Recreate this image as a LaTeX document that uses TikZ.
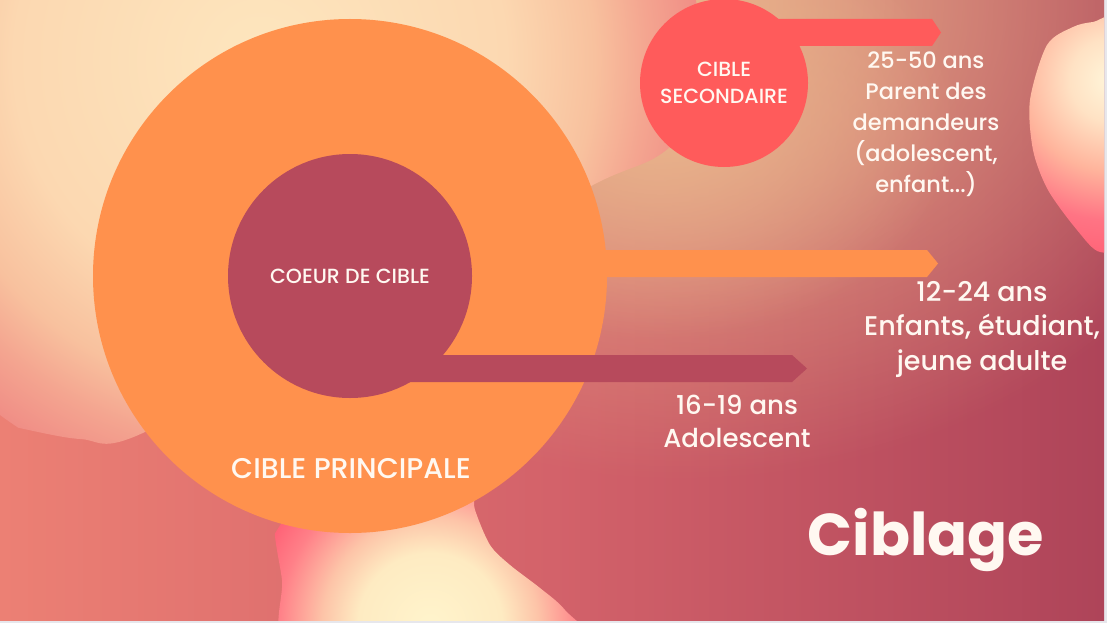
\documentclass[tikz,border=0pt]{standalone}
\usepackage{fontspec}
\setmainfont{Poppins}[UprightFont=* Medium, BoldFont=* Bold]
\usetikzlibrary{calc,fadings}

% palette
\definecolor{frameC}{HTML}{E7E7EC}
\definecolor{orangeC}{HTML}{FF914D}
\definecolor{coreC}{HTML}{B74A5C}
\definecolor{secC}{HTML}{FF5B5B}
\definecolor{txtC}{HTML}{FFF8F1}
\definecolor{bgL}{HTML}{EC8074}
\definecolor{bgM}{HTML}{D3626A}
\definecolor{bgR}{HTML}{AE4459}
\definecolor{tanC}{HTML}{E9B48C}
% blob tones
\definecolor{tA}{HTML}{FDE6BE}
\definecolor{tB}{HTML}{FCD8B1}
\definecolor{tC}{HTML}{F8C19E}
\definecolor{tD}{HTML}{F4A590}
\definecolor{tE}{HTML}{F08E86}
\definecolor{bA}{HTML}{FFF4CC}
\definecolor{bB}{HTML}{FEEBC2}
\definecolor{bC}{HTML}{FDC4A8}
\definecolor{bD}{HTML}{FF8088}
\definecolor{bE}{HTML}{FF6478}
\definecolor{rA}{HTML}{FFF6DA}
\definecolor{rB}{HTML}{FFE2C4}
\definecolor{rC}{HTML}{FFB49C}
\definecolor{rD}{HTML}{FF7484}

% blob shadings (radius of the shaded disc <-> 25bp)
\pgfdeclareradialshading{blobtop}{\pgfpoint{0bp}{0bp}}{%
  color(0bp)=(tA); color(14bp)=(tB); color(19bp)=(tC);
  color(22bp)=(tD); color(25bp)=(tE); color(50bp)=(tE)}
\pgfdeclareradialshading{blobbottom}{\pgfpoint{0bp}{0bp}}{%
  color(0bp)=(bA); color(10bp)=(bB); color(15bp)=(bC);
  color(21bp)=(bD); color(25bp)=(bE); color(50bp)=(bE)}
\pgfdeclareradialshading{blobright}{\pgfpoint{0bp}{0bp}}{%
  color(0bp)=(rA); color(6bp)=(rB); color(13bp)=(rC);
  color(20bp)=(rD); color(25bp)=(bE); color(50bp)=(bE)}

\tikzfading[name=softdisk, inner color=transparent!0, outer color=transparent!100]

\pgfdeclarelayer{backdrop}
\pgfdeclarelayer{bandlow}
\pgfdeclarelayer{ring}
\pgfdeclarelayer{bandhigh}
\pgfsetlayers{backdrop,bandlow,ring,bandhigh,main}

\tikzset{
  disc/.style={circle, inner sep=0pt, text=txtC, align=center},
  caption/.style={text=txtC, align=center, inner sep=0pt},
}

\begin{document}
\begin{tikzpicture}[x=1pt,y=-1pt]
\useasboundingbox (0,0) rectangle (1107,623);

\begin{pgfonlayer}{backdrop}
  \fill[frameC] (0,0) rectangle (1107,623);
  \begin{scope}
    \clip (0,0) rectangle (1104,620);
    % base gradient with a warm tan glow along the top
    \shade[left color=bgL, right color=bgR, middle color=bgM] (0,0) rectangle (1104,620);
    \fill[tanC, path fading=softdisk] (680,0) ellipse (600 and 480);
    \fill[tanC, path fading=softdisk] (660,120) ellipse (300 and 220);
    % large pale blob, upper left
    \begin{scope}
      \clip plot[smooth cycle] coordinates {(-80,-60) (-80,410) (0,424) (80,439)
        (145,432) (400,290) (593,185) (670,147) (760,40) (800,-40) (400,-90)};
      \shade[shading=blobtop] (260,60) circle (440);
    \end{scope}
    % glowing blob, bottom centre
    \begin{scope}
      \clip plot[smooth cycle] coordinates {(440,670) (290,650) (282,580) (275,520)
        (300,470) (400,440) (468,480) (475,510) (490,545) (510,565) (540,588)
        (565,610) (590,650)};
      \shade[shading=blobbottom] (430,625) circle (180);
    \end{scope}
    % glowing blob, right edge
    \begin{scope}
      \clip plot[smooth cycle] coordinates {(1093,22) (1073,27) (1047,45) (1030,100)
        (1033,150) (1048,190) (1077,230) (1100,252) (1130,240) (1140,130) (1125,20)};
      \shade[shading=blobright] (1112,80) circle (175);
    \end{scope}
  \end{scope}
\end{pgfonlayer}

% target circles
\begin{pgfonlayer}{ring}
  \node[disc, fill=orangeC, minimum size=514] (outer) at (350,276) {};
\end{pgfonlayer}
\node[disc, fill=coreC, minimum size=244, font=\fontsize{20.5}{24}\selectfont] (core) at (350,276) {COEUR DE CIBLE};
\node[disc, fill=secC, minimum size=168, font=\fontsize{20.5}{27}\selectfont] (sec) at (724,83) {CIBLE\\SECONDAIRE};

% ribbon tips
\coordinate (tipS) at (941,32.5);
\coordinate (tipO) at (938,263.5);
\coordinate (tipC) at (807,368.5);

\begin{pgfonlayer}{bandlow}
  \fill[secC] ($(sec.center |- tipS)+(0,-13.5)$) -- ($(tipS)+(-9,-13.5)$) -- (tipS)
    -- ($(tipS)+(-9,13.5)$) -- ($(sec.center |- tipS)+(0,13.5)$) -- cycle;
  \fill[orangeC] ($(outer.center |- tipO)+(0,-13.5)$) -- ($(tipO)+(-11,-13.5)$) -- (tipO)
    -- ($(tipO)+(-11,13.5)$) -- ($(outer.center |- tipO)+(0,13.5)$) -- cycle;
\end{pgfonlayer}
\begin{pgfonlayer}{bandhigh}
  \fill[coreC] ($(core.center |- tipC)+(0,-13.5)$) -- ($(tipC)+(-15,-13.5)$) -- (tipC)
    -- ($(tipC)+(-15,13.5)$) -- ($(core.center |- tipC)+(0,13.5)$) -- cycle;
\end{pgfonlayer}

% captions
\node[caption, font=\fontsize{28.5}{30}\selectfont] (principal) at (351,469) {CIBLE PRINCIPALE};
\node[caption, font=\fontsize{22.5}{31}\selectfont] (ageS) at (926,124)
  {25-50 ans\\Parent des\\demandeurs\\(adolescent,\\enfant...)};
\node[caption, font=\fontsize{27}{34.5}\selectfont] (ageO) at (982,329)
  {12-24 ans\\Enfants, étudiant,\\jeune adulte};
\node[caption, font=\fontsize{26}{33}\selectfont] (ageC) at (737,421)
  {16-19 ans\\Adolescent};
\node[caption, font=\fontsize{59}{62}\selectfont\bfseries] (title) at (926,540) {Ciblage};

\end{tikzpicture}
\end{document}
